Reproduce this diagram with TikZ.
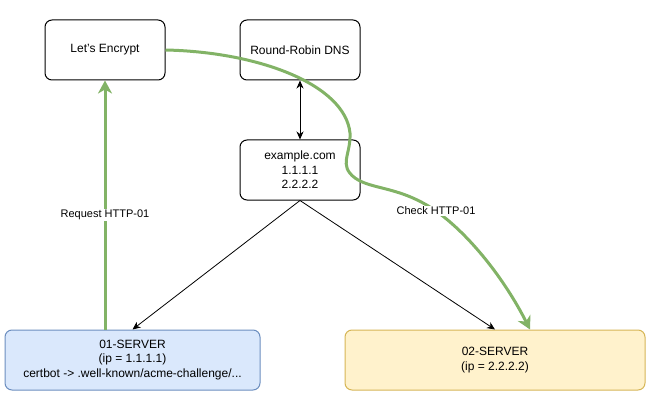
\documentclass[tikz,border=0pt]{standalone}
\usepackage{fontspec}
\setmainfont{Liberation Sans}
\usepackage{tikz}
\usetikzlibrary{arrows.meta}

\definecolor{srvblue}{HTML}{DAE8FC}
\definecolor{srvblueline}{HTML}{6C8EBF}
\definecolor{srvyellow}{HTML}{FFF2CC}
\definecolor{srvyellowline}{HTML}{D6B656}
\definecolor{acmegreen}{HTML}{82B366}

\begin{document}
\begin{tikzpicture}[x=1pt, y=-1pt, >={Stealth[length=8pt, width=7pt, inset=2.5pt]},
	box/.style={draw, line width=1pt, rounded corners=7pt, minimum width=120pt, minimum height=60pt, inner sep=0pt, align=center, font=\fontsize{12}{14.5}\selectfont},
	srv/.style={box, minimum width=255pt},
	lbl/.style={fill=white, text=black, inner sep=1pt, font=\fontsize{11}{13}\selectfont},
	link/.style={line width=0.8pt, ->},
	acme/.style={line width=3pt, acmegreen, -{Stealth[length=13pt, width=14pt, inset=4pt]}}]
	\useasboundingbox (0,0) rectangle (656,417);

	\node[box] (le) at (105,50) {Let's Encrypt};
	\node[box] (dns) at (300,50) {Round-Robin DNS};
	\node[box] (ex) at (300,170) {example.com\\1.1.1.1\\2.2.2.2};
	\node[srv, fill=srvblue, draw=srvblueline] (s1) at (132.5,360) {01-SERVER\\(ip = 1.1.1.1)\\certbot -> .well-known/acme-challenge/...};
	\node[srv, minimum width=300pt, fill=srvyellow, draw=srvyellowline] (s2) at (495,360) {02-SERVER\\(ip = 2.2.2.2)};

	\draw[link, <->] (dns) -- (ex);
	\draw[link] (ex.south) -- (s1.north);
	\draw[link] (ex.south) -- (s2.north);

	% http-01 challenge
	\draw[acme] (s1.north -| le.south) -- node[lbl, pos=0.46] (req) {Request HTTP-01} (le.south);
	\draw[acme] (le.east) .. controls (260,52) and (345,85) .. (350,133)
		.. controls (351,155) and (338,165) .. (355,178)
		.. controls (372,190) and (400,186) .. (436,211) node[lbl] (chk) {Check HTTP-01}
		.. controls (470,235) and (505,280) .. ([xshift=35pt]s2.north);
\end{tikzpicture}
\end{document}
